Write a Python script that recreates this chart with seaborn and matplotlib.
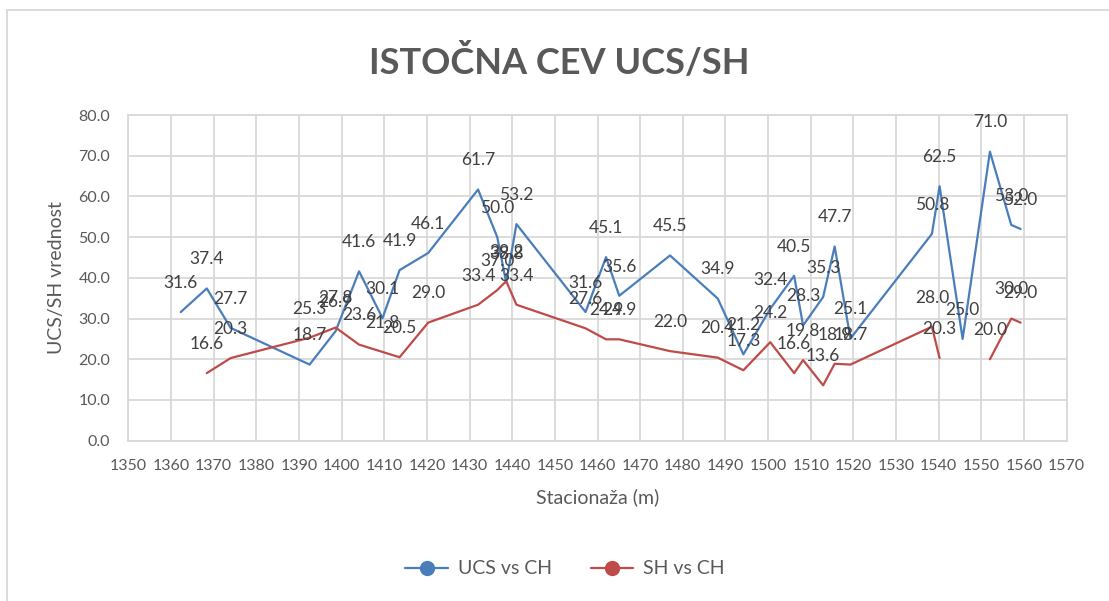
import numpy as np
import pandas as pd
import matplotlib
matplotlib.use("Agg")
import matplotlib.pyplot as plt
from matplotlib.lines import Line2D
from matplotlib.patches import Rectangle
import seaborn as sns

# ---- data ----
stationing = [1362.3, 1368.4, 1374.0, 1392.5, 1398.6, 1404.1, 1409.6, 1413.6, 1420.3,
              1432.0, 1436.5, 1438.6, 1441.0, 1457.2, 1462.0, 1465.1, 1477.0, 1488.2,
              1494.2, 1500.5, 1506.1, 1508.2, 1512.9, 1515.6, 1519.3, 1538.4, 1540.2,
              1545.6, 1552.0, 1557.0, 1559.2]
ucs = [31.6, 37.4, 27.7, 18.7, 26.9, 41.6, 30.1, 41.9, 46.1,
       61.7, 50.0, 38.8, 53.2, 31.6, 45.1, 35.6, 45.5, 34.9,
       21.2, 32.4, 40.5, 28.3, 35.3, 47.7, 25.1, 50.8, 62.5,
       25.0, 71.0, 53.0, 52.0]
sh = [np.nan, 16.6, 20.3, 25.3, 27.8, 23.6, 21.8, 20.5, 29.0,
      33.4, 37.0, 39.2, 33.4, 27.6, 24.9, 24.9, 22.0, 20.4,
      17.3, 24.2, 16.6, 19.8, 13.6, 18.9, 18.7, 28.0, 20.3,
      np.nan, 20.0, 30.0, 29.0]
series_names = ["UCS vs CH", "SH vs CH"]
x_ticks = list(range(1350, 1571, 10))
y_ticks = [0, 10, 20, 30, 40, 50, 60, 70, 80]
title = "ISTOČNA CEV UCS/SH"
x_title = "Stacionaža (m)"
y_title = "UCS/SH vrednost"

# ---- long-form table; gaps split lines into segments ----
rows = []
for name, vals in zip(series_names, [ucs, sh]):
    seg = 0
    for x, v in zip(stationing, vals):
        if v is None or (isinstance(v, float) and np.isnan(v)):
            seg += 1
            continue
        rows.append({"x": x, "y": v, "series": name, "seg": f"{name}-{seg}"})
df = pd.DataFrame(rows)

sns.set_theme(style="white")
FONT = ["Lato", "DejaVu Sans"]
plt.rcParams["font.family"] = FONT

TXT = "#595959"
LBL = "#404040"
GRID = "#D9D9D9"
palette = {"UCS vs CH": "#4A7EBB", "SH vs CH": "#BE4B48"}

fig = plt.figure(figsize=(11.09, 6.01), dpi=100)
fig.patch.set_facecolor("white")
ax = fig.add_axes([128.3 / 1109, (601 - 440.7) / 601, (1066.7 - 128.3) / 1109, (440.7 - 115) / 601])

# outer chart border
fig.patches.append(Rectangle((7 / 1109, -0.05), 1.2, 1 - 10 / 601 + 0.05, transform=fig.transFigure,
                             fill=False, edgecolor=GRID, linewidth=1.3, zorder=0))

sns.lineplot(data=df, x="x", y="y", hue="series", units="seg", estimator=None,
             palette=palette, linewidth=1.6, legend=False, sort=True, ax=ax, zorder=3)

ax.set_xlim(1350, 1570)
ax.set_ylim(0, 80)
ax.set_xticks(x_ticks)
ax.set_yticks(y_ticks)
ax.set_xticklabels([str(t) for t in x_ticks])
ax.set_yticklabels([f"{t:.1f}" for t in y_ticks])
ax.tick_params(axis="both", length=0, labelsize=11.5, colors=TXT)
ax.tick_params(axis="x", pad=13)
ax.tick_params(axis="y", pad=13)
ax.grid(True, color=GRID, linewidth=1.3)
ax.set_axisbelow(True)
for s in ax.spines.values():
    s.set_visible(True)
    s.set_color(GRID)
    s.set_linewidth(1.3)

ax.set_xlabel(x_title, fontsize=14, color=TXT)
ax.set_ylabel(y_title, fontsize=14, color=TXT, ha="center", va="center")
ax.xaxis.set_label_coords(0.5, -0.145)
ax.yaxis.set_label_coords((57 - 128.3) / 938.4, 0.5)

# data labels
for name, vals in zip(series_names, [ucs, sh]):
    for x, v in zip(stationing, vals):
        if np.isnan(v):
            continue
        ax.annotate(f"{v:.1f}", (x, v), xytext=(0, 21), textcoords="offset points",
                    ha="center", va="center", fontsize=12.5, color=LBL, zorder=5,
                    annotation_clip=False)

fig.text(559.5 / 1109, 1 - 74 / 601, title, ha="center", va="baseline",
         fontsize=26, fontweight="bold", color=TXT)

handles = [Line2D([], [], color=palette[n], linewidth=1.6, marker="o", markersize=10,
                  markerfacecolor=palette[n], markeredgecolor=palette[n]) for n in series_names]
fig.legend(handles, series_names, loc="center", bbox_to_anchor=(565 / 1109, 1 - 569 / 601),
           ncol=2, frameon=False, fontsize=14, labelcolor=TXT, handlelength=2.2,
           columnspacing=2.0, handletextpad=0.5)

fig.savefig("out.png", dpi=100, facecolor="white")
